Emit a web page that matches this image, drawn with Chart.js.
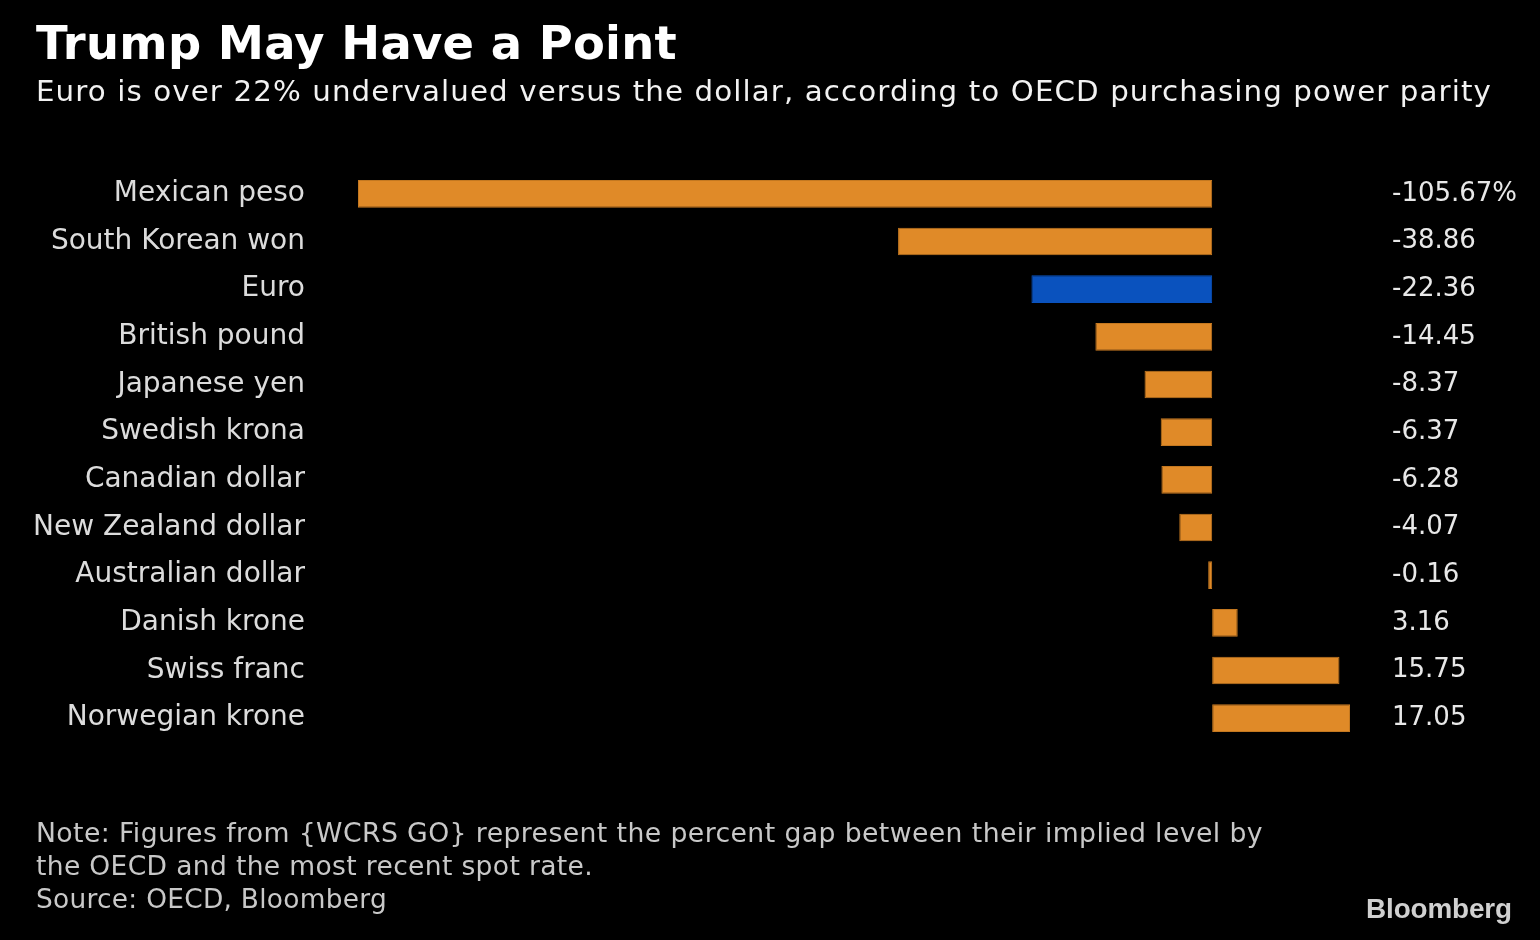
<!DOCTYPE html>
<html>
<head>
<meta charset="utf-8">
<script src="https://cdn.jsdelivr.net/npm/chart.js@4.4.1/dist/chart.umd.min.js"></script>
<style>
  html, body { margin: 0; padding: 0; background: #000; width: 1540px; height: 940px; overflow: hidden; }
  #wrap { position: relative; width: 1540px; height: 940px; background: #000; }
  canvas { position: absolute; left: 0; top: 0; }
  .t { position: absolute; white-space: nowrap; line-height: 1; transform-origin: 0 0; }
  #title { left: 36px; top: 16px; font: bold 46px "DejaVu Sans", sans-serif; color: #fff; }
  #subtitle { left: 36px; top: 75px; font: 27.5px "DejaVu Sans", sans-serif; color: #f2f2f2; }
  .note { left: 36px; font: 26px "DejaVu Sans", sans-serif; color: #c8c8c8; line-height: 33px; }
  #logo { left: 1366px; top: 893px; font: bold 28px "Liberation Sans", Arial, sans-serif; color: #d0d0d0; }
</style>
</head>
<body>
<div id="wrap">
  <canvas id="c" width="1540" height="940"></canvas>
  <div class="t" id="title" data-w="641">Trump May Have a Point</div>
  <div class="t" id="subtitle" data-w="1456">Euro is over 22% undervalued versus the dollar, according to OECD purchasing power parity</div>
  <div class="t note" style="top:817px" data-w="1227">Note: Figures from {WCRS GO} represent the percent gap between their implied level by</div>
  <div class="t note" style="top:850px" data-w="557">the OECD and the most recent spot rate.</div>
  <div class="t note" style="top:883px" data-w="351">Source: OECD, Bloomberg</div>
  <div class="t" id="logo" data-w="146">Bloomberg</div>
</div>
<script>
const categories = ['Mexican peso','South Korean won','Euro','British pound','Japanese yen','Swedish krona','Canadian dollar','New Zealand dollar','Australian dollar','Danish krone','Swiss franc','Norwegian krone'];
const values = [-105.67, -38.86, -22.36, -14.45, -8.37, -6.37, -6.28, -4.07, -0.16, 3.16, 15.75, 17.05];
const valueLabels = ['-105.67%','-38.86','-22.36','-14.45','-8.37','-6.37','-6.28','-4.07','-0.16','3.16','15.75','17.05'];
const highlighted = ['Euro'];

const ORANGE = '#e08a28';
const ORANGE_EDGE = '#c47820';
const BLUE = '#0a52be';

// fit HTML text widths: half through letter-spacing, rest through horizontal scaling
document.querySelectorAll('.t').forEach(el => {
  const target = parseFloat(el.dataset.w);
  el.style.display = 'inline-block';
  const w0 = el.getBoundingClientRect().width;
  const n = el.textContent.length;
  if (!(w0 > 0) || n < 2) return;
  const ls = ((target - w0) / (n - 1)) * 0.5;
  el.style.letterSpacing = ls + 'px';
  const w1 = el.getBoundingClientRect().width;
  el.style.transform = 'scaleX(' + (target / w1) + ')';
});

const FAM = '"DejaVu Sans", sans-serif';

new Chart(document.getElementById('c'), {
  type: 'bar',
  data: {
    labels: categories,
    datasets: [{
      data: values,
      backgroundColor: categories.map(c => highlighted.includes(c) ? BLUE : ORANGE),
      borderColor: categories.map(c => highlighted.includes(c) ? BLUE : ORANGE_EDGE),
      borderWidth: 1,
      borderSkipped: false,
      minBarLength: 4,
      categoryPercentage: 1,
      barPercentage: 0.58,
      yAxisID: 'y'
    }]
  },
  options: {
    indexAxis: 'y',
    responsive: false,
    animation: false,
    layout: { padding: { top: 170, bottom: 198, left: 0, right: 0 } },
    plugins: { legend: { display: false }, tooltip: { enabled: false }, title: { display: false } },
    scales: {
      x: { type: 'linear', min: -105.67, max: 17.05, display: false },
      y: {
        type: 'category', position: 'left', offset: true,
        grid: { display: false, drawTicks: false }, border: { display: false },
        ticks: { color: '#dcdcdc', font: { family: FAM, size: 28 }, padding: 53 },
        afterFit: s => { s.width = 358; }
      },
      y2: {
        type: 'category', labels: valueLabels, position: 'right', offset: true,
        grid: { display: false, drawTicks: false }, border: { display: false },
        ticks: { color: '#e8e8e8', font: { family: FAM, size: 26 }, padding: 42 },
        afterFit: s => { s.width = 190; }
      }
    }
  }
});
</script>
</body>
</html>
